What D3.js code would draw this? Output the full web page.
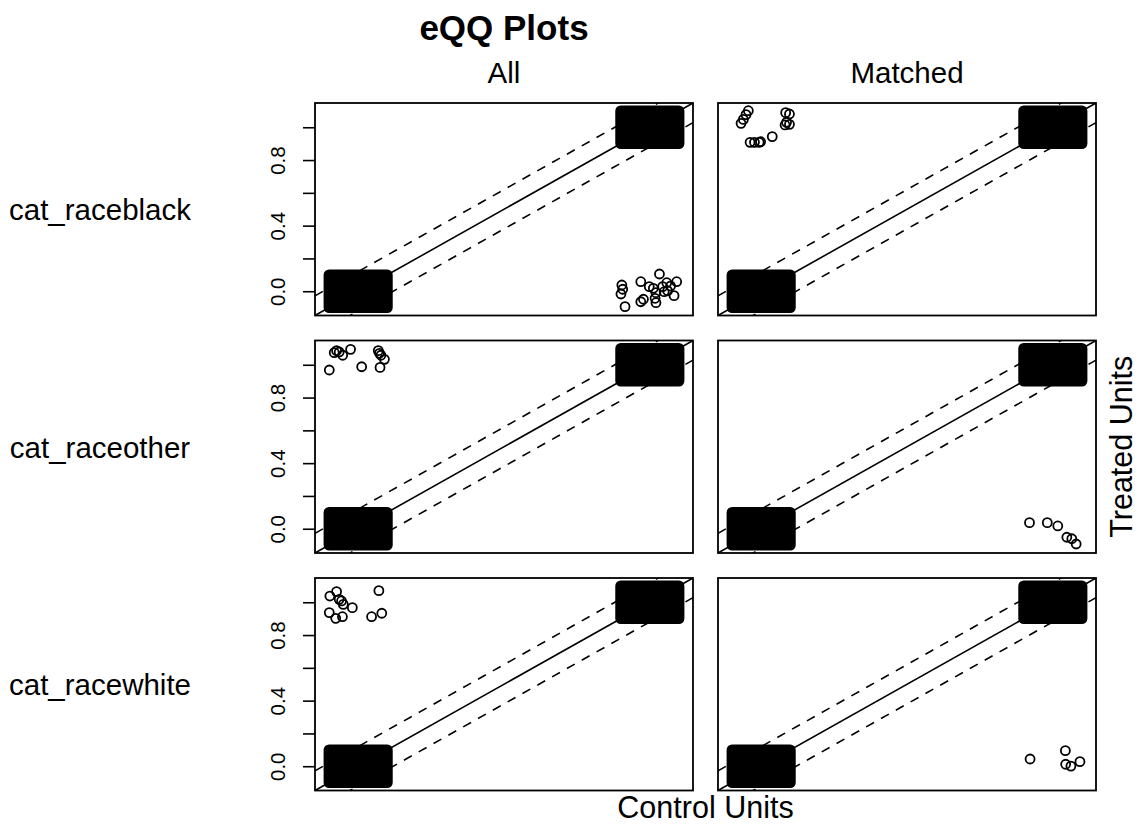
<!DOCTYPE html>
<html>
<head>
<meta charset="utf-8">
<script src="https://cdnjs.cloudflare.com/ajax/libs/d3/7.8.5/d3.min.js"></script>
<style>
  body { margin: 0; background: #fff; }
  text { font-family: "Liberation Sans", Arial, Helvetica, sans-serif; fill: #000; }
</style>
</head>
<body>
<script>
// rows and columns of the eQQ grid
const variables = ["cat_raceblack", "cat_raceother", "cat_racewhite"];
const samples = ["All", "Matched"];
const yTicks = [0, 0.2, 0.4, 0.6, 0.8, 1.0];
const yTickLabels = ["0.0", "0.4", "0.8"];
const dataRange = [-0.1, 1.1];
const jitterAmount = 0.1;
const bandOffset = 0.12; // 10% of the range

// dense jittered clusters (centers), by [row][col]
const clusterCenters = [
  [[[0, 0], [1, 1]], [[0, 0], [1, 1]]],
  [[[0, 0], [1, 1]], [[0, 0], [1, 1]]],
  [[[0, 0], [1, 1]], [[0, 0], [1, 1]]]
];

// stray points, by [row][col]
const strayPoints = [
  [
    [[0.904, 0.038], [0.907, 0.012], [0.901, -0.017], [0.915, -0.094], [0.969, 0.058],
     [1.033, 0.105], [0.998, 0.028], [0.978, -0.049], [0.969, -0.064], [1.021, -0.009],
     [1.018, -0.043], [1.021, -0.070], [1.044, 0.028], [1.058, 0.052], [1.071, 0.032],
     [1.092, 0.058], [1.061, 0.003], [1.083, -0.027], [1.049, -0.003], [1.012, 0.018]],
    [[-0.044, 1.101], [-0.052, 1.077], [-0.061, 1.048], [-0.069, 1.024], [0.084, 1.089],
     [0.097, 1.081], [0.087, 1.030], [0.097, 1.018], [0.082, 1.014], [-0.038, 0.908],
     [-0.023, 0.908], [-0.007, 0.908], [-0.002, 0.912], [0.038, 0.943]]
  ],
  [
    [[-0.099, 0.968], [-0.082, 1.074], [-0.074, 1.086], [-0.065, 1.078], [-0.053, 1.058],
     [-0.026, 1.094], [0.012, 0.988], [0.069, 1.086], [0.073, 1.070], [0.078, 1.058],
     [0.090, 1.033], [0.075, 0.984]],
    [[0.920, 0.037], [0.981, 0.037], [1.017, 0.017], [1.048, -0.052], [1.065, -0.061],
     [1.080, -0.093]]
  ],
  [
    [[-0.097, 1.038], [-0.074, 1.065], [-0.065, 1.018], [-0.057, 1.008], [-0.051, 0.987],
     [-0.020, 0.967], [-0.099, 0.937], [-0.077, 0.902], [-0.054, 0.912], [0.071, 1.071],
     [0.046, 0.912], [0.081, 0.933]],
    [[0.922, 0.044], [1.043, 0.095], [1.044, 0.012], [1.062, 0.001], [1.093, 0.028]]
  ]
];

const width = 1140, height = 826;
const panelW = 378, panelH = 212.5;
const left0 = 315, top0 = 103, colStep = 403, rowStep = 237.5;
const r = 4.5;

const pad = (dataRange[1] - dataRange[0]) * 0.04;
const domain = [dataRange[0] - pad, dataRange[1] + pad];

const x = d3.scaleLinear().domain(domain).range([0, panelW]);
const y = d3.scaleLinear().domain(domain).range([panelH, 0]);

const svg = d3.select("body").append("svg")
    .attr("width", width)
    .attr("height", height);

svg.append("defs").append("clipPath")
    .attr("id", "panel-clip")
  .append("rect")
    .attr("width", panelW)
    .attr("height", panelH);

// title and column headers
svg.append("text")
    .attr("x", left0 + panelW / 2)
    .attr("y", 40)
    .attr("text-anchor", "middle")
    .style("font-size", "35px")
    .style("font-weight", "bold")
    .text("eQQ Plots");

samples.forEach(function(s, j) {
  svg.append("text")
      .attr("x", left0 + j * colStep + panelW / 2)
      .attr("y", 83)
      .attr("text-anchor", "middle")
      .style("font-size", "29.5px")
      .text(s);
});

variables.forEach(function(v, i) {
  const top = top0 + i * rowStep;

  svg.append("text")
      .attr("x", 100)
      .attr("y", top + panelH / 2 + 11)
      .attr("text-anchor", "middle")
      .style("font-size", "29.5px")
      .text(v);

  samples.forEach(function(s, j) {
    const g = svg.append("g")
        .attr("transform", "translate(" + (left0 + j * colStep) + "," + top + ")");

    const inner = g.append("g").attr("clip-path", "url(#panel-clip)");

    // y = x and the +/- band
    [0, bandOffset, -bandOffset].forEach(function(off) {
      inner.append("line")
          .attr("x1", x(domain[0])).attr("y1", y(domain[0] + off))
          .attr("x2", x(domain[1])).attr("y2", y(domain[1] + off))
          .attr("stroke", "#000")
          .attr("stroke-width", 1.6)
          .attr("stroke-dasharray", off === 0 ? null : "9,8");
    });

    // dense clusters drawn as their jittered extent
    inner.selectAll(".cluster")
        .data(clusterCenters[i][j])
        .enter()
        .append("rect")
        .attr("class", "cluster")
        .attr("x", function(d) { return x(d[0] - jitterAmount) - r - 0.9; })
        .attr("y", function(d) { return y(d[1] + jitterAmount) - r - 0.9; })
        .attr("width", function(d) { return x(d[0] + jitterAmount) - x(d[0] - jitterAmount) + 2 * r + 1.8; })
        .attr("height", function(d) { return y(d[1] - jitterAmount) - y(d[1] + jitterAmount) + 2 * r + 1.8; })
        .attr("rx", r + 1)
        .attr("fill", "#000");

    inner.selectAll(".pt")
        .data(strayPoints[i][j])
        .enter()
        .append("circle")
        .attr("class", "pt")
        .attr("cx", function(d) { return x(d[0]); })
        .attr("cy", function(d) { return y(d[1]); })
        .attr("r", r)
        .attr("fill", "none")
        .attr("stroke", "#000")
        .attr("stroke-width", 1.8);

    g.append("rect")
        .attr("width", panelW)
        .attr("height", panelH)
        .attr("fill", "none")
        .attr("stroke", "#000")
        .attr("stroke-width", 1.8);

    if (j === 0) {
      const axis = d3.axisLeft(y)
          .tickValues(yTicks)
          .tickSize(12)
          .tickFormat(function(d) {
            const lab = d3.format(".1f")(d);
            return yTickLabels.indexOf(lab) >= 0 ? lab : "";
          });
      const ax = g.append("g").call(axis);
      ax.select(".domain").remove();
      ax.selectAll(".tick line").attr("stroke-width", 1.6);
      ax.selectAll(".tick text")
          .attr("x", null).attr("dy", null)
          .attr("transform", "translate(-30,0) rotate(-90)")
          .attr("text-anchor", "middle")
          .style("font-family", "\"Liberation Sans\", Arial, sans-serif")
          .style("font-size", "20.5px");
    }
  });
});

// outer axis titles
svg.append("text")
    .attr("x", (left0 + left0 + colStep + panelW) / 2)
    .attr("y", 818)
    .attr("text-anchor", "middle")
    .style("font-size", "30.5px")
    .text("Control Units");

svg.append("text")
    .attr("transform", "translate(1132," + (top0 + rowStep + panelH / 2) + ") rotate(-90)")
    .attr("text-anchor", "middle")
    .style("font-size", "30.5px")
    .text("Treated Units");
</script>
</body>
</html>
